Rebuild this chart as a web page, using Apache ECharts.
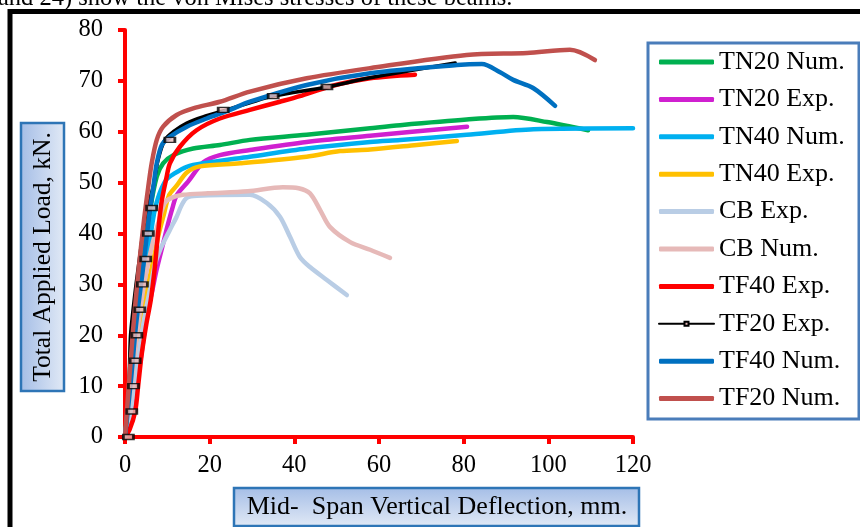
<!DOCTYPE html>
<html><head><meta charset="utf-8">
<script src="https://cdn.jsdelivr.net/npm/echarts@6/dist/echarts.min.js"></script>
<style>html,body{margin:0;padding:0;background:#fff;overflow:hidden}#c{width:860px;height:527px}</style>
</head><body><div id="c"></div>
<script>
// ---- data (deflection mm, load kN) ----
const xTicks = [0, 20, 40, 60, 80, 100, 120];
const yTicks = [0, 10, 20, 30, 40, 50, 60, 70, 80];
const seriesNames = ['TN20 Num.', 'TN20 Exp.', 'TN40 Num.', 'TN40 Exp.', 'CB Exp.', 'CB Num.', 'TF40 Exp.', 'TF20 Exp.', 'TF40 Num.', 'TF20 Num.'];
const tn20Num = [[0,0],[2.4,20],[4.4,35],[6,45],[7.5,51.2],[9,53.8],[11.4,55.4],[16.1,56.7],[22.4,57.4],[29.5,58.4],[42.9,59.4],[57.9,60.7],[65,61.3],[80.7,62.4],[91.7,62.9],[99.7,61.9],[109.4,60.3]];
const tn20Exp = [[0,0],[1.5,5],[2.8,10.5],[4,17],[5.1,23.6],[6.5,29],[7.5,33],[9,38],[10.2,42],[11.2,45],[12.2,47.5],[14.9,50.2],[18.5,54],[22.4,55.4],[29.5,56.4],[42.9,58],[57.9,59.2],[80.8,61]];
const tn40Num = [[0,0],[2.8,20],[5,32.8],[6.6,42.7],[7.8,47],[9.7,50.5],[11.7,51.8],[14.6,53.1],[18.5,53.8],[29.5,55.1],[42.9,56.7],[57.9,58],[65,58.4],[80.7,59.4],[96.5,60.5],[120,60.7]];
const tn40Exp = [[0,0],[2,10],[4.3,23.6],[5.5,30],[6.7,34.8],[8,40],[9.1,43.5],[10.4,47.5],[12.2,49.4],[14.6,52],[17.7,53.2],[27.2,53.8],[42.9,55.1],[50.8,56.2],[57.9,56.5],[68.9,57.4],[78.4,58.2]];
const cbExp = [[0,0],[1.2,4],[2.5,12],[3.5,18],[4.7,24],[5.9,29],[7.1,34],[8.3,36.8],[10.6,40.7],[12.2,43.3],[13.4,45.6],[14.6,47],[17,47.4],[29.5,47.6],[33.5,46],[36.6,43.3],[39,39.3],[41.3,35.4],[43.7,33.4],[47.6,30.9],[52.4,27.9]];
const cbNum = [[0,0],[2.5,18],[4.5,30],[6.5,38],[8,42.5],[9.4,46],[11,47],[13.7,47.6],[19.6,47.9],[29,48.3],[37.3,49.1],[41,48.9],[43.7,47.9],[46.1,44.6],[48.4,41.3],[53.2,38.3],[57.9,36.8],[62.6,35.2]];
const tf40Exp = [[0,0],[1.1,1.5],[2.4,5],[3.1,10],[3.9,16],[5,22],[6.1,27],[7,33],[7.8,40],[8.6,46],[9.8,51],[10.6,53.8],[13,57.1],[16.9,60.3],[22.4,62.6],[29.5,64.3],[36.6,65.9],[41.3,67],[48.4,68.9],[57.9,70.5],[68.5,71.2]];
const tf20Exp = [[0,0],[0.6,5],[0.9,10],[1.1,15],[1.3,20],[1.9,25],[2.6,30],[3.4,35],[4.2,40],[5.2,45],[6.6,49],[7.8,54.4],[9.4,58.4],[11.4,60],[14.6,61.7],[18.4,62.9],[24,64.3],[29.5,65.7],[35,67],[47.7,68.8],[57.9,70.6],[78,73.5]];
const tf20ExpMarks = [[0.8,0],[1.6,5],[2,10],[2.4,15],[2.8,20],[3.5,25],[4.1,30],[4.9,35],[5.5,40],[6.3,45],[10.6,58.4],[23.2,64.3],[35,67],[47.7,68.8]];
const tf40Num = [[0,0],[1.5,12],[2.6,22],[4.2,32.8],[5.6,42.7],[6.7,49.2],[7.5,53.8],[8.7,57.4],[10.6,59],[14.6,61],[19.3,62.6],[24.8,64.3],[29.5,65.9],[42.9,69.2],[57.9,71.5],[78.4,73.1],[84.3,73.3],[88.6,71.7],[91.7,70.2],[96.4,68.6],[101.6,65.1]];
const tf20Num = [[0,0],[1.9,21],[3.2,32.8],[4.5,42.7],[5.5,49.2],[6.3,53.8],[7.5,58.4],[9,61],[12.2,63.3],[16.1,64.6],[22.4,65.9],[29.5,67.9],[42.9,70.5],[57.9,72.5],[80.7,75.1],[95,75.5],[105.1,76.1],[111,74.1]];
const seriesData = [tn20Num, tn20Exp, tn40Num, tn40Exp, cbExp, cbNum, tf40Exp, tf20Exp, tf40Num, tf20Num];
const colors = ['#00B050', '#D020D0', '#00B0F0', '#FFC000', '#B9CDE5', '#E6B9B8', '#FF0000', '#000000', '#0070C0', '#C0504D'];
const xTitle = 'Mid-  Span Vertical Deflection, mm.';
const yTitle = 'Total Applied Load, kN.';
const topText = 'and 24) show the von Mises stresses of these beams.';

const FONT = "'Liberation Serif', 'Times New Roman', serif";
const chart = echarts.init(document.getElementById('c'), null, {renderer: 'canvas'});

const series = seriesNames.map((name, i) => {
  const s = {
    name, type: 'line', data: seriesData[i], smooth: 0.3,
    symbol: 'none', showSymbol: false,
    lineStyle: {color: colors[i], width: i === 7 ? 3.5 : 4.5, cap: 'round', join: 'round'},
    itemStyle: {color: colors[i]},
    emphasis: {disabled: true}, animation: false
  };
  if (i === 7) {
    s.symbol = 'rect';
    s.symbolSize = [8, 4];
    s.itemStyle = {color: '#E6B9B8', borderColor: '#000', borderWidth: 1};
  }
  return s;
});
series.push({
  name: 'TF20 Exp. markers', type: 'scatter', data: tf20ExpMarks,
  symbol: 'rect', symbolSize: [10, 5], z: 5,
  itemStyle: {color: '#E6B9B8', borderColor: '#000', borderWidth: 2},
  emphasis: {disabled: true}, animation: false
});

const legendData = seriesNames.map((n, i) => i === 7 ? {name: n} : {name: n, icon: 'roundRect'});

chart.setOption({
  animation: false,
  backgroundColor: '#fff',
  grid: {left: 125, top: 30, width: 508, height: 407, containLabel: false},
  xAxis: {
    type: 'value', min: 0, max: 120, interval: 20,
    axisLine: {show: true, lineStyle: {color: '#FF0000', width: 4}},
    axisTick: {show: true, length: 7, lineStyle: {color: '#FF0000', width: 4}},
    splitLine: {show: false},
    axisLabel: {fontFamily: FONT, fontSize: 24.5, color: '#000', margin: 16,
      formatter: v => xTicks.includes(v) ? String(v) : ''}
  },
  yAxis: {
    type: 'value', min: 0, max: 80, interval: 10,
    axisLine: {show: true, lineStyle: {color: '#FF0000', width: 4}},
    axisTick: {show: true, length: 7, lineStyle: {color: '#FF0000', width: 4}},
    splitLine: {show: false},
    axisLabel: {fontFamily: FONT, fontSize: 24.5, color: '#000', margin: 22,
      formatter: v => yTicks.includes(v) ? String(v) : ''}
  },
  legend: {
    orient: 'vertical', left: 658, top: 47, padding: 0,
    data: legendData,
    itemWidth: 55, itemHeight: 5, itemGap: 7.4,
    textStyle: {fontFamily: FONT, fontSize: 26, color: '#000', lineHeight: 30},
    selectedMode: false
  },
  graphic: [
    {type: 'text', x: -2, y: -1, silent: true,
      style: {text: topText, fontFamily: FONT, fontSize: 24.5, fill: '#000', align: 'left', verticalAlign: 'middle'}},
    {type: 'rect', shape: {x: 10, y: 11.5, width: 900, height: 600}, silent: true,
      style: {fill: 'none', stroke: '#000', lineWidth: 5}},
    {type: 'rect', shape: {x: 21, y: 123, width: 43, height: 268}, silent: true,
      style: {fill: {type: 'linear', x: 0, y: 0, x2: 1, y2: 0, colorStops: [{offset: 0, color: '#A4BDE6'}, {offset: 1, color: '#E2EAF6'}]},
        stroke: '#2E75B6', lineWidth: 2.5}},
    {type: 'text', x: 43, y: 257, rotation: Math.PI / 2, silent: true,
      style: {text: yTitle, fontFamily: FONT, fontSize: 25.5, fill: '#000', align: 'center', verticalAlign: 'middle'}},
    {type: 'rect', shape: {x: 234, y: 488, width: 405, height: 38}, silent: true,
      style: {fill: {type: 'linear', x: 0, y: 0, x2: 0, y2: 1, colorStops: [{offset: 0, color: '#A4BDE6'}, {offset: 1, color: '#E2EAF6'}]},
        stroke: '#2E75B6', lineWidth: 2.5}},
    {type: 'text', x: 437, y: 507, silent: true,
      style: {text: xTitle, fontFamily: FONT, fontSize: 26, fill: '#000', align: 'center', verticalAlign: 'middle'}},
    {type: 'rect', shape: {x: 648, y: 43, width: 211, height: 376}, silent: true,
      style: {fill: 'none', stroke: '#4A7DBA', lineWidth: 3}}
  ],
  series
});
</script></body></html>
